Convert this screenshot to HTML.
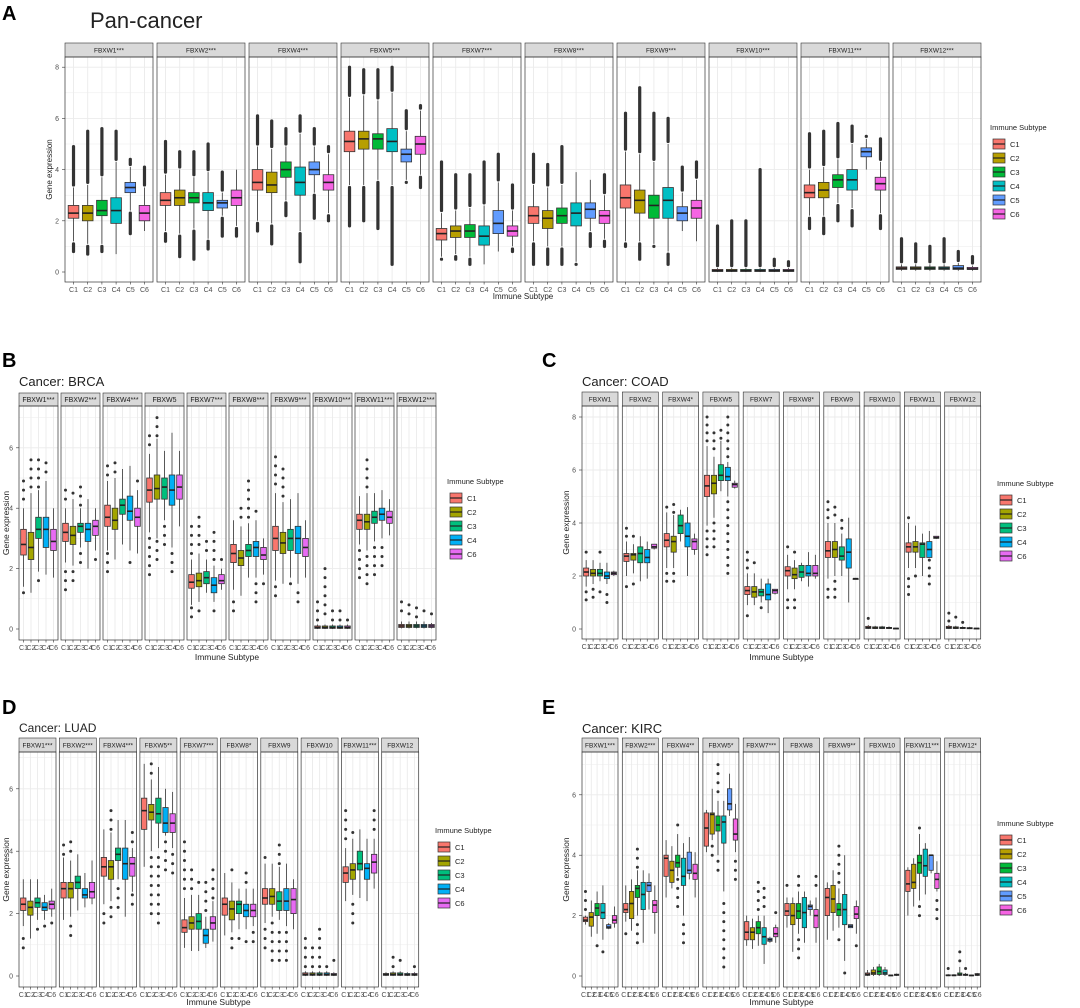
<!DOCTYPE html>
<html><head><meta charset="utf-8"><style>
html,body{margin:0;padding:0;background:#fff}
svg{display:block;font-family:"Liberation Sans",sans-serif}
</style></head><body>
<svg id="fig" width="1080" height="1008" viewBox="0 0 1080 1008" xmlns="http://www.w3.org/2000/svg"></svg>
<script>
const genes = ["FBXW1","FBXW2","FBXW4","FBXW5","FBXW7","FBXW8","FBXW9","FBXW10","FBXW11","FBXW12"];
const groups6 = ["C1","C2","C3","C4","C5","C6"];
const groups5 = ["C1","C2","C3","C4","C6"];
const ticks8 = [0,2,4,6,8];
const ticks6 = [0,2,4,6];
const panStrips = ["FBXW1***","FBXW2***","FBXW4***","FBXW5***","FBXW7***","FBXW8***","FBXW9***","FBXW10***","FBXW11***","FBXW12***"];
const brcaStrips = ["FBXW1***","FBXW2***","FBXW4***","FBXW5","FBXW7***","FBXW8***","FBXW9***","FBXW10***","FBXW11***","FBXW12***"];
const coadStrips = ["FBXW1","FBXW2","FBXW4*","FBXW5","FBXW7","FBXW8*","FBXW9","FBXW10","FBXW11","FBXW12"];
const luadStrips = ["FBXW1***","FBXW2***","FBXW4***","FBXW5**","FBXW7***","FBXW8*","FBXW9","FBXW10","FBXW11***","FBXW12"];
const kircStrips = ["FBXW1***","FBXW2***","FBXW4**","FBXW5*","FBXW7***","FBXW8","FBXW9**","FBXW10","FBXW11***","FBXW12*"];
// stats: [lowWhisker, q1, median, q3, highWhisker, minOutlier, maxOutlier]
const panStats = [
 [[1.2,2.1,2.3,2.6,3.3,0.8,4.9],[1.1,2.0,2.3,2.6,3.4,0.7,5.5],[1.1,2.2,2.4,2.8,3.7,0.8,5.6],[0.7,1.9,2.4,2.9,4.3,0.7,5.5],[2.4,3.1,3.3,3.5,4.1,1.5,4.4],[1.6,2.0,2.3,2.6,3.3,1.6,4.1]],
 [[1.6,2.6,2.8,3.1,3.8,1.2,5.1],[1.5,2.6,2.9,3.2,4.0,0.6,4.7],[1.7,2.7,2.9,3.1,3.7,0.5,4.7],[1.3,2.4,2.7,3.1,3.9,0.9,5.0],[2.2,2.5,2.7,2.8,3.1,1.4,3.9],[1.8,2.6,2.9,3.2,4.0,1.4,4.0]],
 [[2.0,3.2,3.5,4.0,4.9,1.6,6.1],[1.9,3.1,3.4,3.9,4.8,1.1,5.9],[2.8,3.7,4.0,4.3,4.9,2.2,5.6],[1.6,3.0,3.5,4.1,5.4,0.4,6.1],[3.1,3.8,4.0,4.3,4.9,2.1,5.6],[2.3,3.2,3.5,3.8,4.6,2.0,4.9]],
 [[3.4,4.7,5.1,5.5,6.8,1.8,8.0],[3.4,4.8,5.2,5.5,6.9,2.0,7.9],[3.6,4.8,5.2,5.4,6.7,1.7,7.9],[3.4,4.7,5.1,5.6,7.0,0.3,8.0],[3.6,4.3,4.6,4.8,5.5,3.5,6.3],[3.8,4.6,5.0,5.3,6.3,3.3,6.5]],
 [[0.6,1.25,1.5,1.7,2.3,0.5,4.3],[0.7,1.35,1.6,1.8,2.4,0.5,3.8],[0.6,1.35,1.6,1.85,2.5,0.3,3.8],[0.3,1.05,1.4,1.8,2.6,0.3,4.3],[0.8,1.5,1.9,2.4,3.5,0.8,4.6],[1.0,1.4,1.6,1.8,2.4,0.8,3.4]],
 [[1.2,1.9,2.2,2.55,3.4,0.3,4.6],[1.0,1.7,2.1,2.4,3.3,0.3,4.2],[1.0,1.9,2.2,2.5,3.4,0.3,4.9],[0.4,1.8,2.3,2.7,3.9,0.3,3.9],[1.6,2.1,2.45,2.7,3.6,1.0,3.6],[1.3,1.9,2.2,2.4,3.0,1.0,3.8]],
 [[1.2,2.5,2.9,3.4,4.7,1.0,6.2],[1.2,2.3,2.8,3.2,4.6,0.5,7.2],[1.1,2.1,2.6,3.0,4.3,1.0,6.2],[0.8,2.1,2.8,3.3,5.0,0.3,6.0],[1.6,2.0,2.3,2.55,3.1,1.6,4.1],[1.2,2.1,2.5,2.8,3.6,1.2,4.3]],
 [[0,0.02,0.05,0.1,0.15,0,1.8],[0,0.02,0.05,0.1,0.15,0,2.0],[0,0.02,0.05,0.1,0.15,0,2.0],[0,0.02,0.05,0.1,0.15,0,4.0],[0,0.02,0.05,0.1,0.15,0,0.5],[0,0.02,0.05,0.1,0.15,0,0.4]],
 [[2.2,2.9,3.1,3.4,4.0,1.7,5.4],[2.2,2.9,3.2,3.5,4.1,1.5,5.5],[2.7,3.3,3.6,3.8,4.4,2.0,5.8],[2.5,3.2,3.6,4.0,5.0,1.8,5.7],[4.0,4.5,4.7,4.85,5.2,4.0,5.3],[2.3,3.2,3.45,3.7,4.3,1.7,5.2]],
 [[0.05,0.1,0.15,0.2,0.3,0.05,1.3],[0.05,0.1,0.15,0.2,0.3,0.05,1.1],[0.05,0.1,0.15,0.2,0.3,0.05,1.0],[0.05,0.1,0.15,0.2,0.3,0.05,1.3],[0.05,0.1,0.15,0.25,0.35,0.05,0.8],[0.05,0.1,0.12,0.18,0.25,0.05,0.6]]
];
const brcaStats = [
 [[1.4,2.45,2.8,3.3,4.0,1.2,4.9],[1.2,2.3,2.7,3.2,4.5,1.2,5.6],[1.9,3.0,3.3,3.7,4.6,1.6,5.6],[1.8,2.7,3.3,3.7,4.9,1.8,5.5],[1.7,2.6,2.9,3.3,4.0,1.7,4.0]],
 [[2.2,2.9,3.2,3.5,4.0,1.3,4.6],[2.1,2.8,3.1,3.4,4.3,1.6,4.5],[2.7,3.2,3.4,3.5,4.0,2.2,4.7],[2.0,2.9,3.3,3.5,4.3,2.0,4.3],[2.6,3.1,3.4,3.6,4.0,2.3,4.0]],
 [[2.6,3.4,3.7,4.1,4.9,1.9,5.4],[2.3,3.3,3.6,4.0,5.0,2.3,5.5],[2.8,3.8,4.1,4.3,5.3,2.8,5.3],[2.6,3.6,3.9,4.4,5.4,2.2,5.4],[2.5,3.4,3.7,4.0,4.6,2.5,4.9]],
 [[3.2,4.2,4.6,5.0,5.8,1.8,6.4],[3.0,4.3,4.65,5.1,6.3,2.3,7.0],[3.6,4.3,4.7,5.0,5.9,2.8,5.9],[2.7,4.1,4.6,5.1,6.5,1.9,6.5],[3.4,4.3,4.7,5.1,5.9,3.4,5.9]],
 [[0.8,1.35,1.55,1.8,2.3,0.4,3.4],[0.9,1.4,1.6,1.85,2.5,0.6,3.7],[1.2,1.5,1.7,1.9,2.3,1.2,2.9],[0.9,1.2,1.45,1.7,2.1,0.6,3.2],[1.3,1.5,1.6,1.8,2.0,1.3,2.3]],
 [[1.3,2.2,2.5,2.8,3.6,0.6,3.6],[1.1,2.1,2.35,2.6,3.4,1.1,4.0],[1.7,2.4,2.6,2.8,3.5,1.7,4.9],[1.7,2.4,2.7,2.9,3.6,0.9,3.9],[1.8,2.3,2.45,2.7,3.0,1.5,3.0]],
 [[1.6,2.6,3.0,3.4,4.5,1.1,5.7],[1.5,2.5,2.85,3.2,4.2,1.5,5.3],[1.7,2.6,3.0,3.3,4.3,1.5,4.3],[1.5,2.5,3.0,3.4,4.5,0.9,4.5],[1.7,2.4,2.7,3.0,3.6,1.7,3.6]],
 [[0,0.02,0.05,0.1,0.15,0,0.9],[0,0.02,0.05,0.1,0.15,0,2.0],[0,0.02,0.05,0.1,0.15,0,0.6],[0,0.02,0.05,0.1,0.15,0,0.6],[0,0.02,0.05,0.1,0.15,0,0.3]],
 [[2.8,3.3,3.6,3.8,4.4,1.7,4.4],[2.6,3.3,3.55,3.8,4.5,1.5,5.6],[2.9,3.5,3.7,3.9,4.5,1.8,4.5],[3.0,3.6,3.8,4.0,4.6,2.1,4.6],[3.1,3.5,3.7,3.9,4.3,3.1,4.3]],
 [[0.02,0.05,0.1,0.15,0.25,0.02,0.9],[0.02,0.05,0.1,0.15,0.25,0.02,0.8],[0.02,0.05,0.1,0.15,0.25,0.02,0.7],[0.02,0.05,0.1,0.15,0.25,0.02,0.6],[0.02,0.05,0.1,0.15,0.2,0.02,0.5]]
];
const coadStats = [
 [[1.6,2.0,2.15,2.3,2.6,1.1,2.9],[1.7,2.0,2.1,2.25,2.6,1.2,2.6],[1.8,2.0,2.1,2.25,2.5,1.4,2.9],[1.7,1.9,2.0,2.15,2.5,1.0,2.5],[2.0,2.05,2.1,2.15,2.2,2.0,2.2]],
 [[2.0,2.55,2.75,2.85,3.3,1.6,3.8],[2.1,2.6,2.8,2.85,3.2,1.7,3.5],[1.8,2.5,2.85,3.1,3.5,1.8,3.5],[1.9,2.5,2.7,3.0,3.3,1.9,3.3],[3.0,3.05,3.1,3.2,3.2,3.0,3.2]],
 [[2.3,3.1,3.35,3.6,4.4,1.8,4.6],[2.3,2.9,3.3,3.5,4.3,1.8,4.7],[3.3,3.6,3.9,4.3,4.5,3.3,4.5],[2.0,3.1,3.5,4.0,4.6,2.0,4.6],[2.8,3.0,3.3,3.4,3.6,2.8,3.6]],
 [[3.9,5.0,5.4,5.8,6.9,2.8,8.0],[4.2,5.1,5.5,5.8,6.5,3.1,7.4],[5.2,5.6,5.8,6.2,7.1,5.2,7.5],[5.0,5.6,5.75,6.1,6.3,2.1,8.0],[5.3,5.35,5.45,5.5,5.6,5.3,5.6]],
 [[0.9,1.3,1.45,1.6,2.1,0.5,2.9],[0.9,1.2,1.4,1.6,2.1,0.9,2.5],[1.0,1.25,1.4,1.5,1.9,0.8,2.0],[0.6,1.1,1.3,1.7,1.9,0.6,1.9],[1.3,1.35,1.45,1.5,1.5,1.3,1.5]],
 [[1.5,2.0,2.2,2.35,2.8,0.8,3.1],[1.5,1.9,2.05,2.3,2.6,0.8,2.9],[1.8,1.95,2.15,2.4,2.5,1.8,2.5],[1.6,2.0,2.1,2.4,2.9,1.6,2.9],[1.9,2.0,2.1,2.4,2.8,1.9,2.8]],
 [[1.9,2.7,2.95,3.3,4.0,1.2,4.8],[2.0,2.7,3.0,3.3,4.0,1.2,4.6],[2.0,2.6,2.75,3.1,3.6,2.0,4.1],[1.0,2.3,2.9,3.4,4.2,1.0,4.2],[1.9,1.9,1.9,1.9,1.9,1.9,1.9]],
 [[0,0.02,0.05,0.1,0.15,0,0.4],[0,0.02,0.04,0.08,0.12,0,0.2],[0,0.02,0.04,0.08,0.12,0,0.2],[0,0.02,0.04,0.06,0.1,0,0.15],[0,0.01,0.02,0.03,0.04,0,0.04]],
 [[2.3,2.9,3.1,3.25,4.0,1.3,4.2],[2.3,2.9,3.1,3.3,3.9,2.0,3.9],[2.0,2.7,3.2,3.25,3.6,2.0,3.6],[2.7,2.7,3.0,3.3,3.7,1.7,3.7],[3.4,3.42,3.45,3.5,3.5,3.4,3.5]],
 [[0,0.02,0.05,0.1,0.15,0,0.6],[0,0.02,0.04,0.08,0.12,0,0.45],[0,0.02,0.04,0.06,0.1,0,0.25],[0,0.01,0.03,0.05,0.08,0,0.08],[0,0.01,0.02,0.03,0.04,0,0.04]]
];
const luadStats = [
 [[1.6,2.1,2.3,2.5,3.1,0.9,3.1],[1.2,1.95,2.2,2.4,3.1,1.1,3.1],[1.8,2.2,2.35,2.5,3.1,1.5,3.1],[1.8,2.1,2.2,2.35,2.6,1.6,2.6],[1.9,2.15,2.3,2.4,2.8,1.7,2.8]],
 [[1.8,2.5,2.8,3.0,3.8,1.8,4.2],[1.9,2.5,2.8,3.0,3.7,1.3,4.3],[2.1,2.8,3.0,3.2,3.9,2.1,3.9],[2.2,2.5,2.6,2.8,3.3,2.2,3.3],[2.3,2.5,2.7,3.0,3.7,2.3,3.7]],
 [[2.3,3.2,3.5,3.8,4.7,1.7,4.7],[2.4,3.1,3.5,3.7,4.6,1.9,5.3],[3.1,3.7,3.9,4.1,5.0,2.2,5.0],[1.9,3.1,3.6,4.1,5.0,1.9,5.0],[2.7,3.2,3.6,3.8,4.1,2.3,4.6]],
 [[3.5,4.7,5.3,5.7,6.8,3.5,6.8],[4.0,5.0,5.25,5.5,6.3,2.0,6.8],[4.1,4.9,5.2,5.7,6.7,1.7,6.7],[4.5,4.6,4.9,5.4,6.0,3.4,6.0],[4.1,4.6,4.9,5.2,5.9,3.3,5.9]],
 [[0.9,1.4,1.55,1.8,2.5,0.9,4.3],[0.8,1.5,1.7,1.9,2.6,0.8,3.4],[0.8,1.5,1.75,2.0,2.6,0.8,3.0],[0.9,1.05,1.3,1.5,1.9,0.9,3.0],[1.1,1.5,1.7,1.9,2.4,1.1,3.4]],
 [[1.3,1.95,2.3,2.5,3.3,1.3,3.3],[1.4,1.8,2.15,2.4,3.0,0.9,3.4],[1.5,2.0,2.3,2.4,2.8,1.2,2.8],[1.5,1.9,2.1,2.3,2.8,1.1,3.3],[1.6,1.9,2.1,2.3,2.8,1.1,2.8]],
 [[1.7,2.3,2.5,2.8,3.6,0.9,3.8],[1.9,2.3,2.55,2.8,3.6,0.5,3.6],[1.8,2.1,2.4,2.7,3.5,0.5,4.2],[1.6,2.1,2.4,2.8,3.6,0.5,3.6],[1.5,2.0,2.45,2.8,3.1,1.5,3.1]],
 [[0,0.02,0.05,0.1,0.15,0,1.2],[0,0.02,0.05,0.1,0.15,0,0.9],[0,0.02,0.05,0.1,0.15,0,1.5],[0,0.02,0.05,0.1,0.15,0,0.3],[0,0.02,0.04,0.08,0.12,0,0.5]],
 [[2.4,3.0,3.3,3.5,4.1,2.4,5.3],[2.6,3.1,3.4,3.6,4.4,1.7,4.6],[2.5,3.4,3.6,4.0,4.7,2.5,4.7],[2.4,3.1,3.45,3.6,4.4,2.4,4.4],[2.8,3.3,3.65,3.9,4.4,2.8,5.3]],
 [[0,0.02,0.05,0.08,0.12,0,0.2],[0,0.02,0.05,0.1,0.15,0,0.6],[0,0.02,0.05,0.1,0.15,0,0.5],[0,0.02,0.04,0.08,0.12,0,0.2],[0,0.02,0.04,0.08,0.12,0,0.3]]
];
const kircStats = [
 [[1.7,1.8,1.85,1.95,2.0,1.7,2.8],[1.3,1.65,1.95,2.1,2.5,1.3,2.5],[1.4,2.0,2.25,2.4,2.8,1.0,2.8],[1.2,1.9,2.1,2.4,3.0,0.8,3.0],[1.55,1.58,1.62,1.7,1.75,1.55,1.75],[1.6,1.75,1.85,2.0,2.3,1.6,2.3]],
 [[1.8,2.1,2.2,2.4,3.0,1.4,3.0],[1.5,1.9,2.4,2.8,3.2,1.5,3.2],[2.0,2.6,2.9,3.0,3.5,1.1,4.2],[1.1,2.2,2.7,3.1,3.5,1.1,3.5],[2.2,2.8,3.0,3.1,3.4,2.2,3.4],[1.4,2.1,2.35,2.5,3.0,1.4,3.0]],
 [[2.6,3.3,3.9,4.0,4.5,2.6,4.5],[2.9,3.1,3.5,3.8,4.3,2.9,4.3],[3.3,3.6,3.75,4.0,4.7,2.3,5.0],[2.0,3.0,3.3,3.9,4.4,1.1,4.4],[3.2,3.4,3.5,4.1,4.6,3.2,4.6],[2.6,3.2,3.4,3.7,4.1,2.6,4.1]],
 [[4.1,4.3,4.9,5.4,5.5,4.1,5.5],[4.5,4.7,5.35,5.4,6.2,4.0,6.2],[4.0,4.8,5.0,5.3,5.8,3.5,7.0],[2.8,4.4,5.1,5.3,5.8,0.3,5.8],[5.3,5.5,5.7,6.2,6.7,5.3,6.7],[4.1,4.5,4.7,5.2,5.7,3.2,5.7]],
 [[1.0,1.2,1.45,1.8,2.0,1.0,2.0],[0.9,1.2,1.45,1.6,1.9,0.9,1.9],[1.0,1.4,1.6,1.8,2.0,1.0,3.1],[0.4,1.05,1.3,1.6,2.0,0.4,2.9],[1.1,1.15,1.2,1.25,1.3,1.1,1.3],[1.1,1.3,1.4,1.6,1.7,1.1,2.1]],
 [[1.6,2.0,2.15,2.4,2.6,1.6,3.0],[0.8,1.7,2.0,2.4,2.6,0.8,2.6],[1.4,1.9,2.15,2.4,2.8,0.6,3.3],[1.1,1.6,2.1,2.6,2.8,1.1,2.8],[2.0,2.2,2.3,2.35,2.5,2.0,2.5],[1.1,1.6,2.0,2.2,2.6,1.1,3.3]],
 [[1.2,2.0,2.6,2.9,3.1,1.2,3.1],[1.5,2.1,2.55,3.0,3.5,1.5,3.5],[1.6,2.0,2.2,2.4,2.9,1.2,4.3],[0.5,1.7,2.2,2.7,4.0,0.1,4.0],[1.6,1.6,1.65,1.7,1.7,1.6,1.7],[1.4,1.9,2.05,2.3,2.5,1.0,2.5]],
 [[0,0.02,0.05,0.1,0.2,0,0.25],[0,0.05,0.1,0.2,0.3,0,0.3],[0,0.05,0.15,0.3,0.4,0,0.4],[0,0.05,0.1,0.2,0.3,0,0.3],[0,0.01,0.02,0.03,0.04,0,0.04],[0,0.02,0.04,0.06,0.08,0,0.1]],
 [[2.0,2.8,3.05,3.5,3.6,2.0,3.6],[2.3,2.9,3.1,3.7,3.9,2.3,3.9],[2.5,3.4,3.75,4.0,4.7,2.0,4.9],[2.7,3.3,3.65,4.2,4.4,2.7,4.4],[3.4,3.5,4.0,4.0,4.0,3.4,4.0],[2.8,2.9,3.2,3.4,3.8,1.9,3.8]],
 [[0,0.01,0.02,0.04,0.06,0,0.25],[0,0.01,0.02,0.04,0.06,0,0.1],[0,0.02,0.05,0.1,0.3,0,0.8],[0,0.02,0.04,0.06,0.1,0,0.25],[0,0.01,0.02,0.03,0.04,0,0.04],[0,0.02,0.04,0.08,0.1,0,0.1]]
];
const col6 = ["#F8766D","#B79F00","#00BA38","#00BFC4","#619CFF","#F564E3"];
const col5 = ["#F8766D","#A3A500","#00BF7D","#00B0F6","#E76BF3"];

const NS="http://www.w3.org/2000/svg";
const svg=document.getElementById('fig');
function mk(tag,attrs,parent,text){const e=document.createElementNS(NS,tag);for(const k in attrs)e.setAttribute(k,attrs[k]);if(text!==undefined)e.textContent=text;(parent||svg).appendChild(e);return e;}

function drawPanel(cfg){
  const g=mk('g',{});
  
  
  const yS=v=>cfg.y0-v*cfg.unit;
  const n=cfg.groups.length;
  const top=cfg.strip+cfg.sh;
  // panel label & title
  const L=mk('text',{x:cfg.lx,y:cfg.ly,'font-size':20,'font-weight':'bold',fill:'#000'},g,cfg.letter);
  
  const T=mk('text',{x:cfg.tx,y:cfg.ty,'font-size':cfg.tfs,fill:'#222'},g,cfg.title);
  
  // y axis
  cfg.ticks.forEach(t=>{
    const tl=mk('text',{x:cfg.x0-6,y:yS(t)+2.5,'font-size':cfg.afs,fill:'#4d4d4d','text-anchor':'end'},g,String(t));
    
    mk('line',{x1:cfg.x0-3,x2:cfg.x0,y1:yS(t),y2:yS(t),stroke:'#333','stroke-width':0.6},g);
  });
  const yt=mk('text',{transform:`translate(${cfg.yax},${(top+cfg.bottom)/2}) rotate(-90)`,'font-size':cfg.lfs,fill:'#222','text-anchor':'middle'},g,'Gene expression');
  
  const xt=mk('text',{x:cfg.x0+cfg.pitch*5-2,y:cfg.xay,'font-size':cfg.lfs,fill:'#222','text-anchor':'middle'},g,'Immune Subtype');
  
  const step=cfg.w/(n-1+1.2);
  genes.forEach((gene,gi)=>{
    const px=cfg.x0+gi*cfg.pitch;
    const fg=mk('g',{},g);
    
    
    mk('rect',{x:px,y:top,width:cfg.w,height:cfg.bottom-top,fill:'#fff'},fg);
    // grid
    const lo=-(cfg.y0-cfg.bottom)/cfg.unit, hi=(cfg.y0-top)/cfg.unit;
    for(let v=Math.ceil(lo);v<=hi;v+=1){mk('line',{x1:px,x2:px+cfg.w,y1:yS(v),y2:yS(v),stroke:'#ebebeb','stroke-width':v%2===0?0.9:0.5},fg);}
    cfg.groups.forEach((c,ci)=>{const cx=px+step*(0.6+ci);mk('line',{x1:cx,x2:cx,y1:top,y2:cfg.bottom,stroke:'#ebebeb','stroke-width':0.9},fg);});
    // strip
    const st=mk('rect',{x:px,y:cfg.strip,width:cfg.w,height:cfg.sh,fill:'#d9d9d9',stroke:'#333','stroke-width':0.6},fg);
    
    const stt=mk('text',{x:px+cfg.w/2,y:cfg.strip+cfg.sh/2+2.3,'font-size':cfg.sfs,fill:'#1a1a1a','text-anchor':'middle'},fg,cfg.strips[gi]);
    
    // boxes
    const stats=cfg.stats[gi];
    cfg.groups.forEach((c,ci)=>{
      const s=stats[ci];const cx=px+step*(0.6+ci);const bw=step*0.75;
      const bg=mk('g',{},fg);
      
      
      // outliers
      if(cfg.dense){
        if(s[6]>s[4]+0.02) mk('line',{x1:cx,x2:cx,y1:yS(s[4]+0.1),y2:yS(s[6]),stroke:'#333','stroke-width':3.2,'stroke-linecap':'round'},bg);
        if(s[5]<s[0]-0.02) mk('line',{x1:cx,x2:cx,y1:yS(s[0]-0.1),y2:yS(s[5]),stroke:'#333','stroke-width':3.2,'stroke-linecap':'round'},bg);
      } else {
        const st2=0.3;
        if(s[6]>s[4]+0.05){for(let v=s[6];v>s[4]+0.1;v-=st2)mk('circle',{cx:cx,cy:yS(v),r:1.5,fill:'#333'},bg);}
        if(s[5]<s[0]-0.05){for(let v=s[5];v<s[0]-0.1;v+=st2)mk('circle',{cx:cx,cy:yS(v),r:1.5,fill:'#333'},bg);}
      }
      mk('line',{x1:cx,x2:cx,y1:yS(s[0]),y2:yS(s[4]),stroke:'#333','stroke-width':0.8},bg);
      mk('rect',{x:cx-bw/2,y:yS(s[3]),width:bw,height:Math.max(0.8,yS(s[1])-yS(s[3])),fill:cfg.colors[ci],stroke:'#333','stroke-width':0.8},bg);
      mk('line',{x1:cx-bw/2,x2:cx+bw/2,y1:yS(s[2]),y2:yS(s[2]),stroke:'#222','stroke-width':1.6},bg);
      // x tick
      mk('line',{x1:cx,x2:cx,y1:cfg.bottom,y2:cfg.bottom+2.5,stroke:'#333','stroke-width':0.6},fg);
      const xl=mk('text',{x:cx,y:cfg.bottom+10,'font-size':cfg.afs,fill:'#4d4d4d','text-anchor':'middle'},fg,c);
      
    });
    mk('rect',{x:px,y:top,width:cfg.w,height:cfg.bottom-top,fill:'none',stroke:'#333','stroke-width':0.7},fg);
  });
  // legend
  const lg=mk('g',{},g);
  
  mk('text',{x:cfg.legx,y:cfg.legy,'font-size':cfg.lgfs,fill:'#222'},lg,'Immune Subtype');
  cfg.groups.forEach((c,ci)=>{
    const ky=cfg.legy+8+ci*cfg.legstep;
    const e=mk('g',{},lg);
    
    mk('rect',{x:cfg.legx+3,y:ky+1,width:cfg.legk,height:cfg.legstep-4,fill:cfg.colors[ci],stroke:'#333','stroke-width':0.7},e);
    mk('line',{x1:cfg.legx+3,x2:cfg.legx+3+cfg.legk,y1:ky+1+(cfg.legstep-4)/2,y2:ky+1+(cfg.legstep-4)/2,stroke:'#222','stroke-width':1.2},e);
    mk('text',{x:cfg.legx+cfg.legk+8,y:ky+cfg.legstep/2+2,'font-size':cfg.lgfs,fill:'#222'},e,c);
  });
}
drawPanel({name:'panel-a-pan-cancer',letter:'A',lx:2,ly:20,title:'Pan-cancer',tx:90,ty:28,tfs:22,x0:65,pitch:92,w:88,strip:43,sh:14,bottom:282,y0:272,unit:25.6,ticks:ticks8,groups:groups6,colors:col6,stats:panStats,strips:panStrips,dense:true,afs:7,sfs:6.5,lfs:8,yax:52,xay:299,legx:990,legy:130,legstep:14,legk:12,lgfs:7.5});
drawPanel({name:'panel-b-brca',letter:'B',lx:2,ly:367,title:'Cancer: BRCA',tx:19,ty:386,tfs:13,x0:19,pitch:42,w:39,strip:393,sh:13,bottom:640,y0:629,unit:30.2,ticks:ticks6,groups:groups5,colors:col5,stats:brcaStats,strips:brcaStrips,dense:false,afs:7,sfs:7,lfs:8.5,yax:9,xay:660,legx:447,legy:484,legstep:14,legk:12,lgfs:7.5});
drawPanel({name:'panel-c-coad',letter:'C',lx:542,ly:367,title:'Cancer: COAD',tx:582,ty:386,tfs:13,x0:582,pitch:40.3,w:36,strip:392,sh:14,bottom:639,y0:629,unit:26.5,ticks:ticks8,groups:groups5,colors:col5,stats:coadStats,strips:coadStrips,dense:false,afs:7,sfs:6.5,lfs:8.5,yax:569,xay:660,legx:997,legy:486,legstep:14,legk:12,lgfs:7.5});
drawPanel({name:'panel-d-luad',letter:'D',lx:2,ly:714,title:'Cancer: LUAD',tx:19,ty:732,tfs:12,x0:19,pitch:40.3,w:37,strip:738,sh:14,bottom:987,y0:976,unit:31.2,ticks:ticks6,groups:groups5,colors:col5,stats:luadStats,strips:luadStrips,dense:false,afs:7,sfs:6.5,lfs:8.5,yax:9,xay:1005,legx:435,legy:833,legstep:14,legk:12,lgfs:7.5});
drawPanel({name:'panel-e-kirc',letter:'E',lx:542,ly:714,title:'Cancer: KIRC',tx:582,ty:733,tfs:13,x0:582,pitch:40.3,w:36,strip:738,sh:14,bottom:987,y0:976,unit:30.2,ticks:ticks6,groups:groups6,colors:col6,stats:kircStats,strips:kircStrips,dense:false,afs:7,sfs:6.5,lfs:8.5,yax:569,xay:1005,legx:997,legy:826,legstep:14,legk:12,lgfs:7.5});
</script>
</body></html>
